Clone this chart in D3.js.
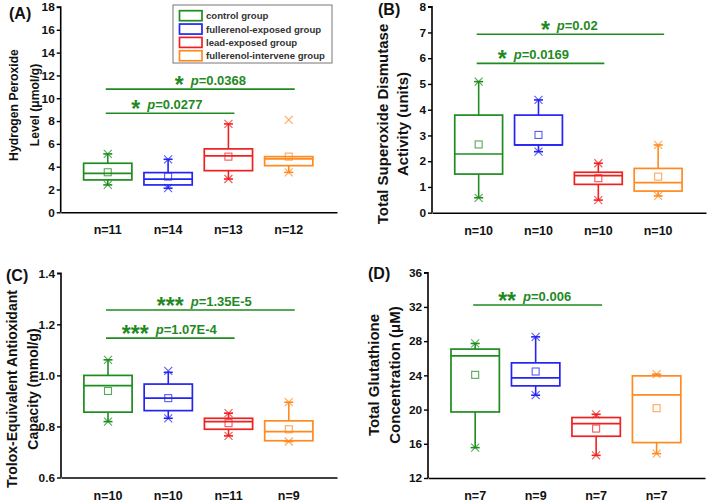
<!DOCTYPE html>
<html><head><meta charset="utf-8">
<script src="https://cdn.jsdelivr.net/npm/d3@7"></script>
<style>body{margin:0;background:#fff} svg{display:block} text{font-family:"Liberation Sans",Arial,sans-serif}</style>
</head><body><svg id="c" width="708" height="502"></svg>
<script>
// ---------- data ----------
const groups = ["control group", "fullerenol-exposed group", "lead-exposed group", "fullerenol-intervene group"];
const groupColors = ["#1e8c1e", "#2424f2", "#f02020", "#ff8a1f"];

// Panel A: Hydrogen peroxide
const A_n = ["n=11", "n=14", "n=13", "n=12"];
const A_q1 = [2.84, 2.40, 3.65, 4.09];
const A_median = [3.42, 2.90, 4.94, 4.68];
const A_q3 = [4.30, 3.48, 5.56, 4.88];
const A_mean = [3.51, 3.13, 4.88, 4.88];
const A_whiskLo = [2.40, 2.11, 2.92, 3.50];
const A_whiskHi = [5.12, 4.65, 7.75, 4.88];
const A_min = [2.40, 2.11, 2.92, 3.50];
const A_max = [5.12, 4.65, 7.75, 8.10];
const A_ticks = [0, 2, 4, 6, 8, 10, 12, 14, 16, 18];
const A_sigFrom = [1, 1], A_sigTo = [4, 3], A_sigY = [10.80, 8.69];
const A_sigStars = ["*", "*"], A_sigP = ["0.0368", "0.0277"];

// Panel B: Total superoxide dismutase
const B_n = ["n=10", "n=10", "n=10", "n=10"];
const B_q1 = [1.50, 2.63, 1.10, 0.84];
const B_median = [2.28, 2.63, 1.44, 1.17];
const B_q3 = [3.79, 3.79, 1.57, 1.72];
const B_mean = [2.65, 3.02, 1.34, 1.40];
const B_whiskLo = [0.58, 2.37, 0.49, 0.65];
const B_whiskHi = [5.09, 4.38, 1.92, 2.63];
const B_min = [0.58, 2.37, 0.49, 0.65];
const B_max = [5.09, 4.38, 1.92, 2.63];
const B_ticks = [0, 1, 2, 3, 4, 5, 6, 7, 8];
const B_sigFrom = [1, 1], B_sigTo = [4, 3], B_sigY = [6.93, 5.80];
const B_sigStars = ["*", "*"], B_sigP = ["0.02", "0.0169"];

// Panel C: Trolox-equivalent antioxidant capacity
const C_n = ["n=10", "n=10", "n=11", "n=9"];
const C_q1 = [0.856, 0.862, 0.789, 0.744];
const C_median = [0.960, 0.911, 0.819, 0.780];
const C_q3 = [1.000, 0.966, 0.832, 0.822];
const C_mean = [0.939, 0.911, 0.813, 0.789];
const C_whiskLo = [0.819, 0.832, 0.763, 0.741];
const C_whiskHi = [1.061, 1.012, 0.852, 0.895];
const C_min = [0.819, 0.832, 0.763, 0.741];
const C_max = [1.061, 1.018, 0.852, 0.895];
const C_ticks = [0.6, 0.8, 1.0, 1.2, 1.4];
const C_sigFrom = [1, 1], C_sigTo = [4, 3], C_sigY = [1.256, 1.146];
const C_sigStars = ["***", "***"], C_sigP = ["1.35E-5", "1.07E-4"];

// Panel D: Total glutathione
const D_n = ["n=7", "n=9", "n=7", "n=7"];
const D_q1 = [19.72, 22.77, 16.88, 16.14];
const D_median = [26.28, 23.71, 18.36, 21.71];
const D_q3 = [27.07, 25.46, 19.07, 23.94];
const D_mean = [24.06, 24.45, 17.78, 20.16];
const D_whiskLo = [15.55, 21.68, 14.65, 14.85];
const D_whiskHi = [27.73, 28.50, 19.45, 24.14];
const D_min = [15.55, 21.68, 14.65, 14.85];
const D_max = [27.73, 28.50, 19.45, 24.14];
const D_ticks = [12, 16, 20, 24, 28, 32, 36];
const D_sigFrom = [1], D_sigTo = [3], D_sigY = [32.22];
const D_sigStars = ["**"], D_sigP = ["0.006"];

// ---------- drawing ----------
const svg = d3.select("#c");
const sigColor = "#1f8a1f";

function panel(cfg, d) {
  const g = svg.append("g");
  const x = d3.scaleLinear().domain([0.22, 4.8]).range([cfg.left, cfg.right]);
  const y = d3.scaleLinear().domain(cfg.ydom).range([cfg.bottom, cfg.top]);
  const unit = x(2) - x(1);
  const bw = unit * 0.8;

  // y axis
  const ya = d3.axisLeft(y).tickValues(d.ticks).tickSize(4).tickPadding(2)
    .tickFormat(cfg.fmt);
  const yg = g.append("g").attr("transform", `translate(${cfg.left},0)`).call(ya);
  yg.select(".domain").attr("stroke", "#000").attr("stroke-width", 1.6).attr("d", `M-4,${cfg.top}H0V${cfg.bottom}`);
  yg.selectAll(".tick line").attr("stroke", "#000").attr("stroke-width", 1.4);
  yg.selectAll(".tick text").attr("font-size", 11.8).attr("font-weight", "bold").attr("fill", "#111");
  // x axis (no ticks)
  const xa = d3.axisBottom(x).tickValues([]).tickSize(0);
  const xg = g.append("g").attr("transform", `translate(0,${cfg.bottom})`).call(xa);
  xg.select(".domain").attr("stroke", "#000").attr("stroke-width", 1.6);

  // n labels
  g.selectAll(".nl").data(d.n).join("text")
    .attr("x", (v, i) => x(i + 1)).attr("y", cfg.bottom + 22)
    .attr("text-anchor", "middle").attr("font-size", 12.5).attr("font-weight", "bold").attr("fill", "#111")
    .text(v => v);

  // boxes
  d.q1.forEach((q1, i) => {
    const cx = x(i + 1), c = groupColors[i];
    const bg = g.append("g").attr("stroke", c).attr("fill", "none");
    if (d.whiskHi[i] > d.q3[i]) {
      bg.append("line").attr("x1", cx).attr("x2", cx).attr("y1", y(d.q3[i])).attr("y2", y(d.whiskHi[i])).attr("stroke-width", 1.6);
      bg.append("line").attr("x1", cx - 4.5).attr("x2", cx + 4.5).attr("y1", y(d.whiskHi[i])).attr("y2", y(d.whiskHi[i])).attr("stroke-width", 1.6);
    }
    if (d.whiskLo[i] < d.q1[i]) {
      bg.append("line").attr("x1", cx).attr("x2", cx).attr("y1", y(d.q1[i])).attr("y2", y(d.whiskLo[i])).attr("stroke-width", 1.6);
      bg.append("line").attr("x1", cx - 4.5).attr("x2", cx + 4.5).attr("y1", y(d.whiskLo[i])).attr("y2", y(d.whiskLo[i])).attr("stroke-width", 1.6);
    }
    bg.append("rect").attr("x", cx - bw / 2).attr("width", bw)
      .attr("y", y(d.q3[i])).attr("height", y(d.q1[i]) - y(d.q3[i])).attr("stroke-width", 1.7);
    bg.append("line").attr("x1", cx - bw / 2).attr("x2", cx + bw / 2)
      .attr("y1", y(d.median[i])).attr("y2", y(d.median[i])).attr("stroke-width", 1.7);
    bg.append("rect").attr("x", cx - 3.5).attr("y", y(d.mean[i]) - 3.5).attr("width", 7).attr("height", 7)
      .attr("stroke-width", 1.1).attr("stroke-opacity", 0.75);
    [d.min[i], d.max[i]].forEach(v => {
      const py = y(v);
      bg.append("path").attr("d", `M${cx - 4},${py - 4}L${cx + 4},${py + 4}M${cx - 4},${py + 4}L${cx + 4},${py - 4}`)
        .attr("stroke-width", 1.1).attr("stroke-opacity", 0.75);
    });
  });

  // significance lines
  d.sigY.forEach((sy, k) => {
    const py = y(sy);
    g.append("line").attr("x1", x(d.sigFrom[k]) - 2).attr("x2", x(d.sigTo[k]) + 6)
      .attr("y1", py).attr("y2", py).attr("stroke", sigColor).attr("stroke-width", 1.6);
    const tx = x(cfg.sigTextX[k]);
    const t = g.append("text").attr("x", tx).attr("y", py + 4).attr("fill", sigColor).attr("font-weight", "bold");
    t.append("tspan").attr("font-size", 23).text(d.sigStars[k]);
    t.append("tspan").attr("font-size", 13).attr("dx", 7).attr("dy", -8.5).attr("font-style", "italic").text("p");
    t.append("tspan").attr("font-size", 13).text("=" + d.sigP[k]);
  });

  // y label
  cfg.ylab.forEach((s, k) => {
    g.append("text").attr("transform", `translate(${cfg.ylabX[k]},${cfg.ylabY}) rotate(-90)`)
      .attr("text-anchor", "middle").attr("dominant-baseline", "central")
      .attr("font-size", cfg.ylabSize).attr("font-weight", "bold").attr("fill", "#111").text(s);
  });
  // panel letter
  g.append("text").attr("x", cfg.letterX).attr("y", cfg.letterY).attr("font-size", 16).attr("font-weight", "bold")
    .attr("fill", "#111").text(cfg.letter);
}

panel({left: 60.7, right: 337, top: 7, bottom: 212.3, ydom: [0, 18], fmt: d3.format("d"),
  sigTextX: [2.11, 1.39], ylab: ["Hydrogen Peroxide", "Level (\u03bcmol/g)"], ylabX: [14, 35], ylabY: 105, ylabSize: 12.2,
  letter: "(A)", letterX: 9, letterY: 19},
  {n: A_n, q1: A_q1, median: A_median, q3: A_q3, mean: A_mean, whiskLo: A_whiskLo, whiskHi: A_whiskHi,
   min: A_min, max: A_max, ticks: A_ticks, sigFrom: A_sigFrom, sigTo: A_sigTo, sigY: A_sigY, sigStars: A_sigStars, sigP: A_sigP});

panel({left: 432, right: 706, top: 6.7, bottom: 212.7, ydom: [0, 8], fmt: d3.format("d"),
  sigTextX: [2.04, 1.32], ylab: ["Total Superoxide Dismutase", "Activity (units)"], ylabX: [382, 402], ylabY: 124, ylabSize: 15,
  letter: "(B)", letterX: 378, letterY: 15},
  {n: B_n, q1: B_q1, median: B_median, q3: B_q3, mean: B_mean, whiskLo: B_whiskLo, whiskHi: B_whiskHi,
   min: B_min, max: B_max, ticks: B_ticks, sigFrom: B_sigFrom, sigTo: B_sigTo, sigY: B_sigY, sigStars: B_sigStars, sigP: B_sigP});

panel({left: 61, right: 337, top: 273.3, bottom: 477.5, ydom: [0.6, 1.4], fmt: d3.format(".1f"),
  sigTextX: [1.81, 1.23], ylab: ["Trolox-Equivalent Antioxidant", "Capacity (mmol/g)"], ylabX: [12, 33], ylabY: 389, ylabSize: 14,
  letter: "(C)", letterX: 6, letterY: 281},
  {n: C_n, q1: C_q1, median: C_median, q3: C_q3, mean: C_mean, whiskLo: C_whiskLo, whiskHi: C_whiskHi,
   min: C_min, max: C_max, ticks: C_ticks, sigFrom: C_sigFrom, sigTo: C_sigTo, sigY: C_sigY, sigStars: C_sigStars, sigP: C_sigP});

panel({left: 428, right: 705, top: 272.7, bottom: 478, ydom: [12, 36], fmt: d3.format("d"),
  sigTextX: [1.38], ylab: ["Total Glutathione", "Concentration (\u03bcM)"], ylabX: [373, 394], ylabY: 375, ylabSize: 15,
  letter: "(D)", letterX: 368, letterY: 279},
  {n: D_n, q1: D_q1, median: D_median, q3: D_q3, mean: D_mean, whiskLo: D_whiskLo, whiskHi: D_whiskHi,
   min: D_min, max: D_max, ticks: D_ticks, sigFrom: D_sigFrom, sigTo: D_sigTo, sigY: D_sigY, sigStars: D_sigStars, sigP: D_sigP});

// legend
const lg = svg.append("g");
lg.append("rect").attr("x", 173).attr("y", 5).attr("width", 159).attr("height", 58)
  .attr("fill", "#fff").attr("stroke", "#777").attr("stroke-width", 1);
groups.forEach((name, i) => {
  const cy = 15.7 + i * 13.35;
  lg.append("rect").attr("x", 179.5).attr("y", cy - 5).attr("width", 22.5).attr("height", 10)
    .attr("fill", "none").attr("stroke", groupColors[i]).attr("stroke-width", 1.7);
  lg.append("text").attr("x", 206).attr("y", cy).attr("dominant-baseline", "central")
    .attr("font-size", 9.6).attr("font-weight", "bold").attr("fill", "#333").text(name);
});
</script></body></html>
